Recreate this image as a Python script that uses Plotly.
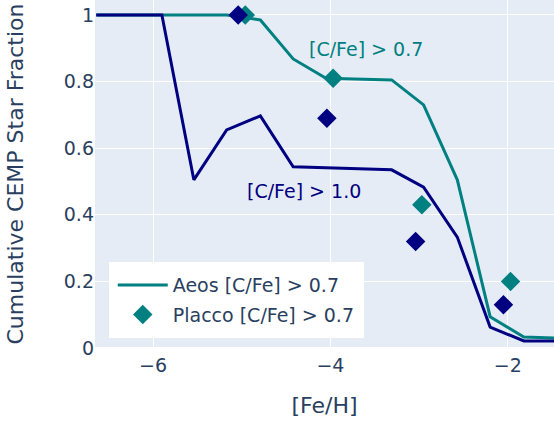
import plotly.graph_objects as go

# Binned metallicity centres shared by the model curves
fe_h_bins = [-6.64, -6.27, -5.90, -5.54, -5.17, -4.79, -4.42, -4.05,
             -3.68, -3.31, -2.95, -2.57, -2.20, -1.82, -1.45]

# Aeos cumulative CEMP fractions
aeos_cfe07 = [1.0, 1.0, 1.0, 1.0, 1.0, 0.985, 0.868, 0.810,
              0.807, 0.805, 0.730, 0.505, 0.094, 0.033, 0.030]
aeos_cfe10 = [1.0, 1.0, 1.0, 0.505, 0.655, 0.697, 0.544, 0.541,
              0.538, 0.535, 0.483, 0.333, 0.063, 0.021, 0.021]

# Placco observational fractions
placco_x_07 = [-4.96, -3.97, -2.97, -1.97]
placco_cfe07 = [1.0, 0.81, 0.43, 0.20]
placco_x_10 = [-5.04, -4.04, -3.04, -2.05]
placco_cfe10 = [1.0, 0.69, 0.32, 0.13]

TEAL = "#008080"
NAVY = "#000080"

fig = go.Figure()
fig.add_trace(go.Scatter(x=fe_h_bins, y=aeos_cfe07, mode="lines",
                         line=dict(color=TEAL, width=3),
                         name="Aeos [C/Fe] > 0.7", legendgroup="aeos"))
fig.add_trace(go.Scatter(x=placco_x_07, y=placco_cfe07, mode="markers",
                         marker=dict(color=TEAL, symbol="diamond", size=15),
                         name="Placco [C/Fe] > 0.7", legendgroup="placco"))
fig.add_trace(go.Scatter(x=fe_h_bins, y=aeos_cfe10, mode="lines",
                         line=dict(color=NAVY, width=3),
                         name="Aeos [C/Fe] > 1.0", showlegend=False,
                         legendgroup="aeos10"))
fig.add_trace(go.Scatter(x=placco_x_10, y=placco_cfe10, mode="markers",
                         marker=dict(color=NAVY, symbol="diamond", size=15),
                         name="Placco [C/Fe] > 1.0", showlegend=False,
                         legendgroup="placco10"))

fig.add_annotation(x=-3.6, y=0.898, text="[C/Fe] > 0.7", showarrow=False,
                   font=dict(color=TEAL, size=19))
fig.add_annotation(x=-4.3, y=0.47, text="[C/Fe] > 1.0", showarrow=False,
                   font=dict(color=NAVY, size=19))

fig.update_layout(
    width=554, height=423,
    template="plotly",
    font=dict(family="DejaVu Sans", size=19, color="#2a3f5f"),
    margin=dict(l=95, r=0, t=0, b=75),
    legend=dict(x=0.03, y=0.247, xanchor="left", yanchor="top",
                bgcolor="white", bordercolor="white", borderwidth=4,
                font=dict(size=19), itemwidth=50,
                traceorder="grouped", tracegroupgap=2),
)
fig.update_xaxes(range=[-6.654, -1.48], dtick=2, ticklabelstandoff=4,
                 title=dict(text="[Fe/H]", font=dict(size=22), standoff=22))
fig.update_yaxes(range=[0, 1.045], dtick=0.2, automargin=False,
                 title=dict(text="Cumulative CEMP Star Fraction", font=dict(size=22),
                            standoff=34))

fig.write_html("out.html")
